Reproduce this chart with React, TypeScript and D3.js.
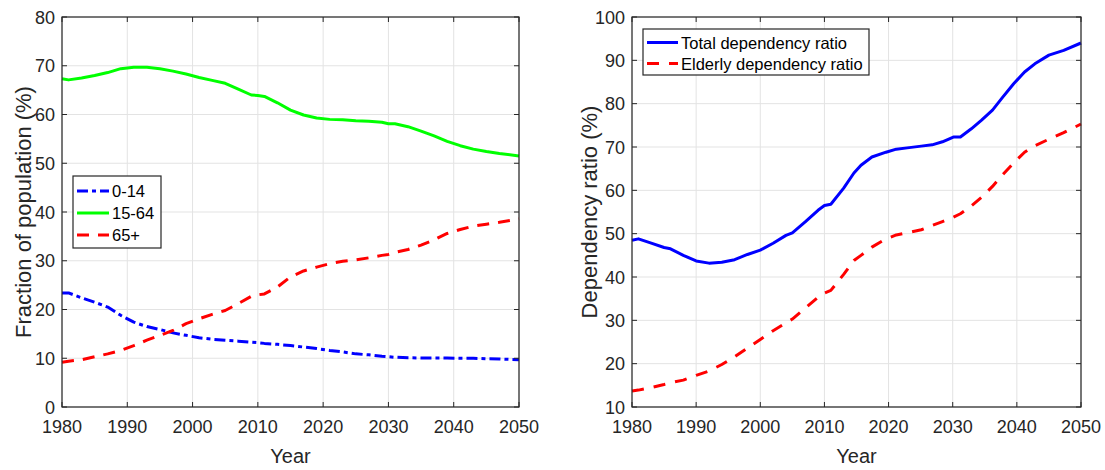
import React from "react";
import * as d3 from "d3";

// Age structure (% of population)
const years = [1980, 1981, 1983, 1985, 1987, 1989, 1991, 1993, 1995, 1997, 1999, 2001, 2003, 2005, 2007, 2009, 2010, 2011, 2013, 2015, 2017, 2019, 2021, 2023, 2025, 2027, 2029, 2030, 2031, 2033, 2035, 2037, 2039, 2041, 2043, 2045, 2047, 2050];
const age0to14 = [23.4, 23.4, 22.4, 21.5, 20.5, 18.8, 17.4, 16.5, 15.9, 15.2, 14.7, 14.2, 13.9, 13.7, 13.5, 13.3, 13.2, 13.05, 12.85, 12.6, 12.3, 12.0, 11.6, 11.3, 10.9, 10.7, 10.4, 10.3, 10.2, 10.1, 10.05, 10.05, 10.05, 10.0, 10.0, 9.9, 9.85, 9.7];
const age15to64 = [67.35, 67.1, 67.5, 68.0, 68.6, 69.4, 69.7, 69.7, 69.4, 68.9, 68.3, 67.6, 67.0, 66.4, 65.2, 64.0, 63.9, 63.7, 62.4, 60.9, 59.9, 59.3, 59.0, 58.9, 58.7, 58.6, 58.4, 58.1, 58.1, 57.5, 56.6, 55.6, 54.5, 53.6, 52.9, 52.4, 52.0, 51.5];
const age65plus = [9.2, 9.4, 9.7, 10.3, 10.9, 11.6, 12.6, 13.7, 14.7, 15.7, 17.1, 18.1, 19.0, 19.8, 21.2, 22.7, 23.0, 23.2, 24.6, 26.7, 27.9, 28.7, 29.4, 29.9, 30.2, 30.6, 31.1, 31.3, 31.7, 32.3, 33.2, 34.3, 35.6, 36.4, 37.1, 37.5, 37.9, 38.6];
const ageLabels = ["0-14", "15-64", "65+"];
const fractionTicks = [0, 10, 20, 30, 40, 50, 60, 70, 80];

// Dependency ratios (%)
const ratioYears = [1980, 1981, 1983, 1985, 1986, 1988, 1990, 1992, 1994, 1996, 1998, 2000, 2002, 2004, 2005, 2007, 2009, 2010, 2011, 2013, 2014.6, 2015.7, 2017.4, 2019.6, 2021.2, 2022.9, 2025.1, 2026.8, 2028.4, 2030.1, 2031.2, 2032.9, 2034.5, 2036.2, 2037.8, 2039.5, 2041.2, 2042.8, 2045, 2047.3, 2050];
const totalRatio = [48.5, 48.8, 47.8, 46.8, 46.5, 45.0, 43.7, 43.2, 43.4, 44.0, 45.2, 46.2, 47.8, 49.6, 50.2, 52.7, 55.4, 56.5, 56.8, 60.5, 64.0, 65.8, 67.7, 68.8, 69.5, 69.8, 70.2, 70.5, 71.2, 72.3, 72.3, 74.2, 76.2, 78.5, 81.5, 84.6, 87.3, 89.2, 91.2, 92.3, 94.0];
const elderlyRatio = [13.7, 13.9, 14.5, 15.2, 15.6, 16.2, 17.3, 18.3, 19.8, 21.6, 23.6, 25.6, 27.6, 29.4, 30.3, 32.8, 35.3, 36.3, 36.9, 40.6, 43.8, 45.0, 46.9, 48.8, 49.7, 50.2, 50.9, 51.9, 52.8, 53.8, 54.6, 56.4, 58.4, 60.9, 63.6, 66.3, 68.8, 70.3, 71.8, 73.3, 75.3];
const ratioLabels = ["Total dependency ratio", "Elderly dependency ratio"];
const ratioTicks = [10, 20, 30, 40, 50, 60, 70, 80, 90, 100];

const yearTicks = [1980, 1990, 2000, 2010, 2020, 2030, 2040, 2050];

const FONT = "'Liberation Sans', Arial, Helvetica, sans-serif";
const AXIS = "#262626";
const GRID = "#e3e3e3";

type Series = {
  xs: number[];
  ys: number[];
  color: string;
  dash?: string;
  label: string;
};

type PanelProps = {
  left: number;
  right: number;
  top: number;
  bottom: number;
  yDomain: [number, number];
  yTicks: number[];
  yLabel: string;
  yLabelX: number;
  series: Series[];
  legend: { x: number; y: number; w: number; rowH: number; firstRow: number; lineLen: number };
};

function Panel(p: PanelProps) {
  const x = d3.scaleLinear().domain([1980, 2050]).range([p.left, p.right]);
  const y = d3.scaleLinear().domain(p.yDomain).range([p.bottom, p.top]);
  const tick = 5;
  const lg = p.legend;
  const legendH = lg.firstRow * 2 + lg.rowH * (p.series.length - 1) - 2;

  return (
    <g>
      {/* grid */}
      {yearTicks.map((t) => (
        <line key={"gx" + t} x1={x(t)} x2={x(t)} y1={p.top} y2={p.bottom} stroke={GRID} strokeWidth={1} />
      ))}
      {p.yTicks.map((t) => (
        <line key={"gy" + t} x1={p.left} x2={p.right} y1={y(t)} y2={y(t)} stroke={GRID} strokeWidth={1} />
      ))}

      {/* series */}
      {p.series.map((s, i) => {
        const gen = d3
          .line<number>()
          .x((_, j) => x(s.xs[j]))
          .y((v) => y(v));
        return (
          <path
            key={"s" + i}
            d={gen(s.ys) || ""}
            fill="none"
            stroke={s.color}
            strokeWidth={3}
            strokeDasharray={s.dash}
            strokeLinejoin="round"
          />
        );
      })}

      {/* axes box with inward ticks */}
      <rect x={p.left} y={p.top} width={p.right - p.left} height={p.bottom - p.top} fill="none" stroke={AXIS} strokeWidth={1.2} />
      {yearTicks.map((t) => (
        <g key={"tx" + t}>
          <line x1={x(t)} x2={x(t)} y1={p.bottom} y2={p.bottom - tick} stroke={AXIS} />
          <line x1={x(t)} x2={x(t)} y1={p.top} y2={p.top + tick} stroke={AXIS} />
          <text x={x(t)} y={p.bottom + 26} textAnchor="middle" fontSize={18} fill={AXIS} fontFamily={FONT}>
            {t}
          </text>
        </g>
      ))}
      {p.yTicks.map((t) => (
        <g key={"ty" + t}>
          <line x1={p.left} x2={p.left + tick} y1={y(t)} y2={y(t)} stroke={AXIS} />
          <line x1={p.right} x2={p.right - tick} y1={y(t)} y2={y(t)} stroke={AXIS} />
          <text x={p.left - 7} y={y(t) + 6.5} textAnchor="end" fontSize={18} fill={AXIS} fontFamily={FONT}>
            {t}
          </text>
        </g>
      ))}

      {/* axis titles */}
      <text x={(p.left + p.right) / 2} y={462.5} textAnchor="middle" fontSize={20} fill={AXIS} fontFamily={FONT}>
        Year
      </text>
      <text
        transform={`translate(${p.yLabelX},${(p.top + p.bottom) / 2}) rotate(-90)`}
        textAnchor="middle"
        fontSize={22}
        fill={AXIS}
        fontFamily={FONT}
      >
        {p.yLabel}
      </text>

      {/* legend */}
      <rect x={lg.x} y={lg.y} width={lg.w} height={legendH} fill="#ffffff" stroke={AXIS} strokeWidth={1.2} />
      {p.series.map((s, i) => {
        const cy = lg.y + lg.firstRow + i * lg.rowH;
        return (
          <g key={"lg" + i}>
            <line x1={lg.x + 4} x2={lg.x + 4 + lg.lineLen} y1={cy} y2={cy} stroke={s.color} strokeWidth={3} strokeDasharray={s.dash} />
            <text x={lg.x + lg.lineLen + 7} y={cy + 6} fontSize={16.5} fill="#000" fontFamily={FONT}>
              {s.label}
            </text>
          </g>
        );
      })}
    </g>
  );
}

export default function App() {
  const leftSeries: Series[] = [
    { xs: years, ys: age0to14, color: "#0000ff", dash: "11,4,4,4", label: ageLabels[0] },
    { xs: years, ys: age15to64, color: "#00ff00", label: ageLabels[1] },
    { xs: years, ys: age65plus, color: "#ff0000", dash: "12,9", label: ageLabels[2] },
  ];
  const rightSeries: Series[] = [
    { xs: ratioYears, ys: totalRatio, color: "#0000ff", label: ratioLabels[0] },
    { xs: ratioYears, ys: elderlyRatio, color: "#ff0000", dash: "12,10", label: ratioLabels[1] },
  ];

  return (
    <svg width={1105} height={470} style={{ position: "absolute", left: 0, top: 0, background: "#fff" }}>
      <rect width={1105} height={470} fill="#fff" />
      <Panel
        left={62}
        right={519}
        top={17}
        bottom={407}
        yDomain={[0, 80]}
        yTicks={fractionTicks}
        yLabel="Fraction of population (%)"
        yLabelX={31}
        series={leftSeries}
        legend={{ x: 73, y: 176, w: 88, rowH: 22, firstRow: 15, lineLen: 32 }}
      />
      <Panel
        left={632}
        right={1081}
        top={17}
        bottom={407}
        yDomain={[10, 100]}
        yTicks={ratioTicks}
        yLabel="Dependency ratio (%)"
        yLabelX={597}
        series={rightSeries}
        legend={{ x: 643, y: 29, w: 226, rowH: 21, firstRow: 13.5, lineLen: 31 }}
      />
    </svg>
  );
}
